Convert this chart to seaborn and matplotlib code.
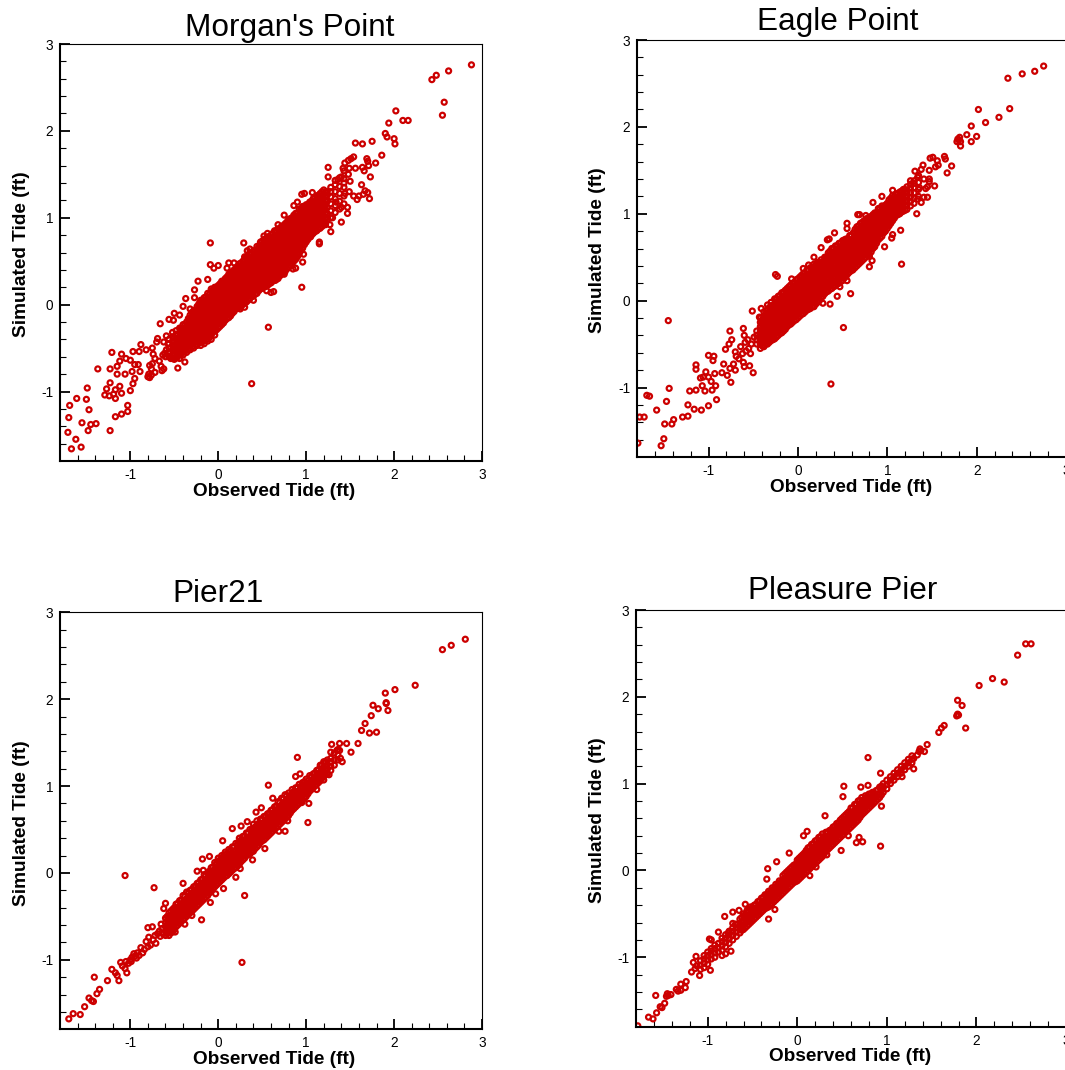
import matplotlib
matplotlib.use("Agg")
import matplotlib.pyplot as plt
import pandas as pd
import seaborn as sns

RED = "#CC0000"
titles = ["Morgan's Point", "Eagle Point", "Pier21", "Pleasure Pier"]
x_label = "Observed Tide (ft)"
y_label = "Simulated Tide (ft)"
major_ticks = [-1, 0, 1, 2, 3]
major_labels = ["-1", "0", "1", "2", "3"]
minor_ticks = [-1.6, -1.4, -1.2, -.8, -.6, -.4, -.2, .2, .4, .6, .8, 1.2, 1.4, 1.6, 1.8, 2.2, 2.4, 2.6, 2.8]

# scattered rings: (observed, simulated)
morgan_rings = [(2.88,2.76),(2.62,2.69),(2.48,2.64),(2.43,2.59),(2.57,2.33),(2.55,2.18),(2.02,2.23),(2.10,2.12),(2.16,2.12),(1.94,2.09),(1.90,1.97),(1.92,1.93),(2.00,1.91),(2.01,1.85),(1.56,1.86),(1.64,1.85),(1.75,1.88),(1.86,1.72),(1.79,1.63),(1.69,1.68),(1.70,1.65),(1.54,1.70),(1.51,1.68),(1.48,1.66),(1.44,1.63),(1.71,1.60),(1.64,1.58),(1.66,1.54),(1.56,1.57),(1.49,1.57),(1.42,1.57),(1.25,1.58),(1.25,1.47),(1.73,1.47),(1.48,1.50),(1.40,1.47),(1.36,1.44),(1.50,1.42),(1.43,1.40),(1.63,1.38),(1.67,1.31),(1.70,1.29),(1.65,1.27),(1.72,1.22),(1.60,1.25),(1.58,1.21),(1.54,1.25),(1.49,1.30),(1.44,1.28),(1.47,1.12),(1.47,1.05),(1.40,.95),(1.30,1.0),(1.27,.92),(1.28,.84),(1.22,.92),(1.34,1.18),(1.40,1.12),(1.15,.70),(1.15,.72),(1.07,.88),(1.05,.78),(1.0,.76),(.97,.58),(.96,.49),(.95,.20),(.88,.42),(.85,.41),(.88,.53),(.57,-.26),(.38,-.91),(.75,.35),(.70,.45),(.63,.15),(.60,.14),(.65,.28),(.55,.16),(.30,-.03),(.40,.05),(.25,-.05),(.13,-.08),
(1.07,1.29),(.98,1.28),(.95,1.27),(.90,1.18),(.86,1.14),(.75,1.03),(.68,.92),(.56,.82),(.52,.79),(.29,.71),(.33,.62),(.36,.64),(.30,.55),(.18,.48),(.12,.48),(.10,.42),(-.09,.71),(-.09,.46),(0,.45),(-.05,.42),(-.23,.27),(-.12,.29),(-.27,.17),(-.37,.07),(-.27,.08),(-.40,-.02),(-.32,-.05),(-.50,-.10),(-.44,-.12),(-.51,-.18),(-.56,-.17),(-.66,-.22),(-.69,-.39),(-.70,-.43),(-.62,-.43),(-.59,-.36),(-.59,-.52),(-.57,-.45),(-.55,-.55),(-.46,-.73),(-.38,-.66),(-.47,-.61),(-.44,-.58),(-.50,-.63),(-.54,-.62),(-.60,-.60),(-.61,-.56),(-.63,-.58),(-.67,-.65),(-.62,-.74),(-.64,-.76),(-.65,-.71),(-.75,-.50),(-.74,-.57),(-.72,-.62),(-.75,-.68),(-.72,-.78),(-.76,-.74),(-.78,-.84),(-.79,-.80),(-.78,-.70),(-.82,-.52),(-.80,-.83),(-.76,-.81),
(-.88,-.46),(-.90,-.54),(-.89,-.77),(-.91,-.69),(-.95,-.69),(-.98,-.77),(-.97,-.54),(-1.0,-.64),(-1.05,-.62),(-1.06,-.80),(-1.10,-.57),(-1.12,-.65),(-1.15,-.71),(-1.15,-.80),(-1.21,-.55),(-1.23,-.74),(-1.37,-.74),(-.95,-.85),(-.97,-.91),(-1.0,-.99),(-1.03,-1.16),(-1.03,-1.23),(-1.10,-1.26),(-1.17,-1.29),(-1.23,-1.45),(-1.23,-.90),(-1.27,-.97),(-1.29,-1.04),(-1.24,-1.05),(-1.19,-1.03),(-1.17,-.98),(-1.17,-1.08),(-1.12,-.94),(-1.10,-1.02),(-1.71,-1.47),(-1.70,-1.30),(-1.69,-1.16),(-1.67,-1.66),(-1.62,-1.55),(-1.56,-1.64),(-1.55,-1.36),(-1.61,-1.08),(-1.50,-1.09),(-1.49,-.96),(-1.47,-1.21),(-1.48,-1.45),(-1.45,-1.38),(-1.39,-1.37)]

# densely overlapping rings: (observed, simulated, simulated, ...)
morgan_core = [
(-.56,-.6,-.55,-.5,-.45,-.4),(-.52,-.62,-.57,-.52,-.47,-.42,-.37,-.32),(-.48,-.6,-.55,-.5,-.45,-.4,-.35,-.3),
(-.44,-.62,-.57,-.52,-.47,-.42,-.37,-.32,-.27),(-.40,-.58,-.53,-.48,-.43,-.38,-.33,-.28,-.23),(-.36,-.55,-.5,-.45,-.4,-.35,-.3,-.25,-.2),
(-.32,-.52,-.47,-.42,-.37,-.32,-.27,-.22,-.17,-.12),(-.28,-.5,-.45,-.4,-.35,-.3,-.25,-.2,-.15,-.1,-.07),(-.24,-.47,-.42,-.37,-.32,-.27,-.22,-.17,-.12,-.07,-.02),
(-.20,-.47,-.42,-.37,-.32,-.27,-.22,-.17,-.12,-.07,-.02,.03,.05),(-.16,-.45,-.4,-.35,-.3,-.25,-.2,-.15,-.1,-.05,0,.05,.08),(-.12,-.42,-.37,-.32,-.27,-.22,-.17,-.12,-.07,-.02,.03,.08,.13),
(-.08,-.4,-.35,-.3,-.25,-.2,-.15,-.1,-.05,0,.05,.1,.15,.18),(-.04,-.35,-.3,-.25,-.2,-.15,-.1,-.05,0,.05,.1,.15,.2),(0,-.27,-.22,-.17,-.12,-.07,-.02,.03,.08,.13,.18,.22),
(.04,-.23,-.18,-.13,-.08,-.03,.02,.07,.12,.17,.22,.27),(.08,-.18,-.13,-.08,-.03,.02,.07,.12,.17,.22,.27,.3),(.12,-.15,-.1,-.05,0,.05,.1,.15,.2,.25,.3,.35),
(.16,-.1,-.05,0,.05,.1,.15,.2,.25,.3,.35,.38),(.20,-.05,0,.05,.1,.15,.2,.25,.3,.35,.4,.42),(.24,-.03,.02,.07,.12,.17,.22,.27,.32,.37,.42,.47),
(.28,0,.05,.1,.15,.2,.25,.3,.35,.4,.45,.5),(.32,.03,.08,.13,.18,.23,.28,.33,.38,.43,.48,.55),(.36,.07,.12,.17,.22,.27,.32,.37,.42,.47,.52,.57,.6),
(.40,.1,.15,.2,.25,.3,.35,.4,.45,.5,.55,.62),(.44,.13,.18,.23,.28,.33,.38,.43,.48,.53,.58,.63,.67),(.48,.18,.23,.28,.33,.38,.43,.48,.53,.58,.63,.68,.72),
(.52,.2,.25,.3,.35,.4,.45,.5,.55,.6,.65,.7,.75),(.56,.22,.27,.32,.37,.42,.47,.52,.57,.62,.67,.72,.78),(.60,.25,.3,.35,.4,.45,.5,.55,.6,.65,.7,.75,.8),
(.64,.28,.33,.38,.43,.48,.53,.58,.63,.68,.73,.78,.85),(.68,.3,.35,.4,.45,.5,.55,.6,.65,.7,.75,.8,.87),(.72,.35,.4,.45,.5,.55,.6,.65,.7,.75,.8,.85,.9),
(.76,.38,.43,.48,.53,.58,.63,.68,.73,.78,.83,.88,.93),(.80,.43,.48,.53,.58,.63,.68,.73,.78,.83,.88,.93,.98),(.84,.47,.52,.57,.62,.67,.72,.77,.82,.87,.92,.97,1.0),
(.88,.52,.57,.62,.67,.72,.77,.82,.87,.92,.97,1.02,1.05),(.92,.58,.63,.68,.73,.78,.83,.88,.93,.98,1.03,1.1),(.96,.65,.7,.75,.8,.85,.9,.95,1.0,1.05,1.1,1.13),
(1.0,.72,.77,.82,.87,.92,.97,1.02,1.07,1.12,1.15),(1.04,.78,.83,.88,.93,.98,1.03,1.08,1.13,1.18),(1.08,.82,.87,.92,.97,1.02,1.07,1.12,1.17,1.22),
(1.12,.85,.9,.95,1.0,1.05,1.1,1.15,1.2,1.25),(1.16,.88,.93,.98,1.03,1.08,1.13,1.18,1.23,1.28),(1.2,.92,.97,1.02,1.07,1.12,1.17,1.22,1.27,1.32),
(1.24,.98,1.05,1.12,1.19,1.26,1.3),(1.28,1.0,1.08,1.16,1.24,1.3,1.35),(1.33,1.06,1.14,1.22,1.3,1.38,1.43),(1.38,1.1,1.19,1.28,1.36,1.46),(1.43,1.16,1.25,1.35,1.45,1.54)]

morgan_fill = [
(-.50,-.58,-.53,-.48,-.43,-.38),(-.46,-.59,-.54,-.49,-.44,-.39,-.34),(-.42,-.57,-.52,-.47,-.42,-.37,-.32,-.27),(-.38,-.54,-.49,-.44,-.39,-.34,-.29,-.24),
(-.34,-.51,-.46,-.41,-.36,-.31,-.26,-.21,-.16),(-.30,-.49,-.44,-.39,-.34,-.29,-.24,-.19,-.14,-.09),(-.26,-.46,-.41,-.36,-.31,-.26,-.21,-.16,-.11,-.06),(-.22,-.44,-.39,-.34,-.29,-.24,-.19,-.14,-.09,-.04,.01),
(-.18,-.43,-.38,-.33,-.28,-.23,-.18,-.13,-.08,-.03,.02,.05),(-.14,-.41,-.36,-.31,-.26,-.21,-.16,-.11,-.06,-.01,.04,.09),(-.10,-.38,-.33,-.28,-.23,-.18,-.13,-.08,-.03,.02,.07,.12),(-.06,-.32,-.27,-.22,-.17,-.12,-.07,-.02,.03,.08,.13,.17),
(-.02,-.29,-.24,-.19,-.14,-.09,-.04,.01,.06,.11,.16,.2),(.02,-.25,-.2,-.15,-.1,-.05,0,.05,.1,.15,.2,.24),(.06,-.21,-.16,-.11,-.06,-.01,.04,.09,.14,.19,.24,.27),(.10,-.16,-.11,-.06,-.01,.04,.09,.14,.19,.24,.29,.32),
(.14,-.13,-.08,-.03,.02,.07,.12,.17,.22,.27,.32,.36),(.18,-.08,-.03,.02,.07,.12,.17,.22,.27,.32,.37,.4),(.22,-.04,.01,.06,.11,.16,.21,.26,.31,.36,.41,.44),(.26,-.01,.04,.09,.14,.19,.24,.29,.34,.39,.44,.48),
(.30,.02,.07,.12,.17,.22,.27,.32,.37,.42,.47,.52),(.34,.05,.1,.15,.2,.25,.3,.35,.4,.45,.5,.55),(.38,.09,.14,.19,.24,.29,.34,.39,.44,.49,.54,.59),(.42,.12,.17,.22,.27,.32,.37,.42,.47,.52,.57,.62),
(.46,.16,.21,.26,.31,.36,.41,.46,.51,.56,.61,.66),(.50,.19,.24,.29,.34,.39,.44,.49,.54,.59,.64,.69,.73),(.54,.21,.26,.31,.36,.41,.46,.51,.56,.61,.66,.71,.76),(.58,.24,.29,.34,.39,.44,.49,.54,.59,.64,.69,.74,.78),
(.62,.27,.32,.37,.42,.47,.52,.57,.62,.67,.72,.77,.82),(.66,.29,.34,.39,.44,.49,.54,.59,.64,.69,.74,.79,.85),(.70,.33,.38,.43,.48,.53,.58,.63,.68,.73,.78,.83,.88),(.74,.37,.42,.47,.52,.57,.62,.67,.72,.77,.82,.87,.91),
(.78,.41,.46,.51,.56,.61,.66,.71,.76,.81,.86,.91,.95),(.82,.45,.5,.55,.6,.65,.7,.75,.8,.85,.9,.95,.99),(.86,.5,.55,.6,.65,.7,.75,.8,.85,.9,.95,1.0,1.03),(.90,.55,.6,.65,.7,.75,.8,.85,.9,.95,1.0,1.05),
(.94,.62,.67,.72,.77,.82,.87,.92,.97,1.02,1.07,1.1),(.98,.69,.74,.79,.84,.89,.94,.99,1.04,1.09,1.13),(1.02,.75,.8,.85,.9,.95,1.0,1.05,1.1,1.15),(1.06,.8,.85,.9,.95,1.0,1.05,1.1,1.15,1.19),
(1.10,.84,.89,.94,.99,1.04,1.09,1.14,1.19,1.23),(1.14,.87,.92,.97,1.02,1.07,1.12,1.17,1.22,1.26),(1.18,.9,.95,1.0,1.05,1.1,1.15,1.2,1.25,1.3),(1.22,.95,1.0,1.05,1.1,1.15,1.2,1.25,1.3)]

eagle_rings = [(2.75,2.70),(2.65,2.64),(2.51,2.61),(2.35,2.56),(2.37,2.21),(2.02,2.20),(2.25,2.11),(2.10,2.05),(1.94,2.01),(1.89,1.91),(2.00,1.89),(1.94,1.83),(1.81,1.88),(1.79,1.86),(1.78,1.83),(1.82,1.83),(1.82,1.78),(1.80,1.85),(1.72,1.55),(1.67,1.47),(1.64,1.66),(1.65,1.63),(1.51,1.65),(1.48,1.64),(1.56,1.61),(1.54,1.54),(1.57,1.56),(1.40,1.56),(1.47,1.50),(1.38,1.51),(1.31,1.49),(1.53,1.32),(1.47,1.40),(1.45,1.19),(1.41,1.19),(1.38,1.13),(1.33,1.0),(1.34,1.17),(1.47,1.37),(1.43,1.29),(1.41,1.40),(1.34,1.42),(1.45,1.31),(1.36,1.30),(1.30,1.35),(1.26,1.38),(1.16,.42),(1.15,.81),(1.05,.72),(1.06,.76),(.97,.62),(.83,.46),(.80,.39),(.80,.51),(.59,.08),(.44,.05),(.36,-.04),(.51,-.31),(.37,-.96),(.28,-.03),(.47,.16),(.61,.35),(.55,.23),(.84,1.13),(.94,1.20),(1.06,1.27),(.67,.99),(.69,.99),(.76,.98),(.55,.89),(.55,.83),(.41,.78),(.33,.70),(.35,.71),(.26,.61),(.18,.50),(.06,.37),(.12,.41),(-.07,.25),(-.25,.30),(-.23,.28),(-.51,-.12),(-.41,-.09),(-.43,-.19),(-1.45,-.23),(-.61,-.32),(-.60,-.40),(-.76,-.35),(-.74,-.45),(-.77,-.50),(-.81,-.56),(-.70,-.59),(-.64,-.53),(-.59,-.48),(-.69,-.64),(-.66,-.67),(-.62,-.61),(-.55,-.55),(-.53,-.61),(-.76,-.78),(-.72,-.73),(-.70,-.80),(-.61,-.71),(-.60,-.76),(-.54,-.75),(-.50,-.83),(-.75,-.94),(-.79,-.86),(-.83,-.73),(-.85,-.83),(-1.0,-.63),(-.94,-.64),(-.95,-.69),(-1.14,-.74),(-1.14,-.79),(-1.03,-.82),(-.93,-.84),(-1.09,-.89),(-1.06,-.88),(-1.0,-.88),(-.97,-.93),(-.92,-.98),(-1.07,-.98),(-1.04,-1.04),(-.96,-1.03),(-1.14,-1.03),(-1.21,-1.04),(-.91,-1.14),(-1.0,-1.21),(-1.08,-1.26),(-1.16,-1.25),(-1.23,-1.20),(-1.44,-1.01),(-1.47,-1.16),(-1.69,-1.09),(-1.66,-1.10),(-1.58,-1.26),(-1.77,-1.34),(-1.72,-1.34),(-1.79,-1.64),(-1.50,-1.59),(-1.53,-1.67),(-1.49,-1.42),(-1.41,-1.42),(-1.39,-1.37),(-1.29,-1.34),(-1.23,-1.33),(-.56,-.45),(-.58,-.58),(-.49,-.42),(-.52,-.5)]

eagle_core = [
(-.46,-.5,-.45,-.4,-.35),(-.42,-.55,-.5,-.45,-.4,-.35,-.3,-.25,-.2),(-.38,-.53,-.48,-.43,-.38,-.33,-.28,-.23,-.18,-.13),(-.34,-.5,-.45,-.4,-.35,-.3,-.25,-.2,-.15,-.1,-.05),
(-.30,-.46,-.41,-.36,-.31,-.26,-.21,-.16,-.11,-.06,-.02),(-.26,-.44,-.39,-.34,-.29,-.24,-.19,-.14,-.09,-.04,.02),(-.22,-.4,-.35,-.3,-.25,-.2,-.15,-.1,-.05,0,.05),
(-.18,-.37,-.32,-.27,-.22,-.17,-.12,-.07,-.02,.03,.09),(-.14,-.33,-.28,-.23,-.18,-.13,-.08,-.03,.02,.07,.12),(-.10,-.28,-.23,-.18,-.13,-.08,-.03,.02,.07,.12,.16),
(-.06,-.25,-.2,-.15,-.1,-.05,0,.05,.1,.15,.2),(-.02,-.22,-.17,-.12,-.07,-.02,.03,.08,.13,.18,.24),(.02,-.18,-.13,-.08,-.03,.02,.07,.12,.17,.22,.27),
(.06,-.15,-.1,-.05,0,.05,.1,.15,.2,.25,.31),(.10,-.11,-.06,-.01,.04,.09,.14,.19,.24,.29,.35),(.14,-.09,-.04,.01,.06,.11,.16,.21,.26,.31,.38),
(.18,-.07,-.02,.03,.08,.13,.18,.23,.28,.33,.38,.42),(.22,-.02,.03,.08,.13,.18,.23,.28,.33,.38,.44),(.26,.03,.08,.13,.18,.23,.28,.33,.38,.43,.47),
(.30,.08,.13,.18,.23,.28,.33,.38,.43,.5),(.34,.11,.16,.21,.26,.31,.36,.41,.46,.51,.55),(.38,.14,.19,.24,.29,.34,.39,.44,.49,.54,.6),
(.42,.17,.22,.27,.32,.37,.42,.47,.52,.57,.63),(.46,.2,.25,.3,.35,.4,.45,.5,.55,.6,.66),(.50,.23,.28,.33,.38,.43,.48,.53,.58,.63,.69),
(.54,.28,.33,.38,.43,.48,.53,.58,.63,.68,.71),(.58,.33,.38,.43,.48,.53,.58,.63,.68,.75),(.62,.36,.41,.46,.51,.56,.61,.66,.71,.78),
(.66,.4,.45,.5,.55,.6,.65,.7,.75,.8,.85),(.70,.44,.49,.54,.59,.64,.69,.74,.79,.84,.89),(.74,.48,.53,.58,.63,.68,.73,.78,.83,.88,.92),
(.78,.52,.57,.62,.67,.72,.77,.82,.87,.92,.95),(.82,.56,.61,.66,.71,.76,.81,.86,.91,.97),(.86,.62,.67,.72,.77,.82,.87,.92,.97,1.01),
(.90,.7,.75,.8,.85,.9,.95,1.0,1.06),(.94,.74,.79,.84,.89,.94,.99,1.04,1.09),(.98,.8,.85,.9,.95,1.0,1.05,1.1),
(1.02,.86,.91,.96,1.01,1.06,1.11,1.16),(1.06,.92,.97,1.02,1.07,1.12,1.17,1.21),(1.10,.98,1.03,1.08,1.13,1.18,1.23),
(1.14,1.0,1.05,1.1,1.15,1.2,1.25),(1.18,1.03,1.08,1.13,1.18,1.23,1.28),(1.22,1.05,1.1,1.15,1.2,1.25,1.31),(1.26,1.09,1.14,1.19,1.24,1.3,1.34),(1.30,1.12,1.18,1.24,1.3,1.38),(1.35,1.2,1.28,1.36,1.44)]

eagle_fill = [
(-.40,-.52,-.47,-.42,-.37,-.32,-.27,-.22),(-.36,-.5,-.45,-.4,-.35,-.3,-.25,-.2,-.15),(-.32,-.48,-.43,-.38,-.33,-.28,-.23,-.18,-.13,-.08),(-.28,-.45,-.4,-.35,-.3,-.25,-.2,-.15,-.1,-.05),
(-.24,-.42,-.37,-.32,-.27,-.22,-.17,-.12,-.07,-.02,.02),(-.20,-.38,-.33,-.28,-.23,-.18,-.13,-.08,-.03,.02,.06),(-.16,-.35,-.3,-.25,-.2,-.15,-.1,-.05,0,.05,.1),(-.12,-.3,-.25,-.2,-.15,-.1,-.05,0,.05,.1,.14),
(-.08,-.27,-.22,-.17,-.12,-.07,-.02,.03,.08,.13,.18),(-.04,-.23,-.18,-.13,-.08,-.03,.02,.07,.12,.17,.21),(0,-.2,-.15,-.1,-.05,0,.05,.1,.15,.2,.25),(.04,-.16,-.11,-.06,-.01,.04,.09,.14,.19,.24,.29),
(.08,-.13,-.08,-.03,.02,.07,.12,.17,.22,.27,.32),(.12,-.1,-.05,0,.05,.1,.15,.2,.25,.3,.35),(.16,-.07,-.02,.03,.08,.13,.18,.23,.28,.33,.38),(.20,-.04,.01,.06,.11,.16,.21,.26,.31,.36,.41),
(.24,0,.05,.1,.15,.2,.25,.3,.35,.4,.44),(.28,.05,.1,.15,.2,.25,.3,.35,.4,.45),(.32,.1,.15,.2,.25,.3,.35,.4,.45,.5),(.36,.13,.18,.23,.28,.33,.38,.43,.48,.53,.57),
(.40,.16,.21,.26,.31,.36,.41,.46,.51,.56,.6),(.44,.19,.24,.29,.34,.39,.44,.49,.54,.59,.63),(.48,.22,.27,.32,.37,.42,.47,.52,.57,.62,.66),(.52,.26,.31,.36,.41,.46,.51,.56,.61,.66,.7),
(.56,.31,.36,.41,.46,.51,.56,.61,.66,.71),(.60,.35,.4,.45,.5,.55,.6,.65,.7,.75),(.64,.38,.43,.48,.53,.58,.63,.68,.73,.78,.82),(.68,.42,.47,.52,.57,.62,.67,.72,.77,.82,.86),
(.72,.46,.51,.56,.61,.66,.71,.76,.81,.86,.9),(.76,.5,.55,.6,.65,.7,.75,.8,.85,.9,.93),(.80,.54,.59,.64,.69,.74,.79,.84,.89,.94),(.84,.6,.65,.7,.75,.8,.85,.9,.95,.99),
(.88,.66,.71,.76,.81,.86,.91,.96,1.01),(.92,.72,.77,.82,.87,.92,.97,1.02,1.06),(.96,.78,.83,.88,.93,.98,1.03,1.08),(1.00,.83,.88,.93,.98,1.03,1.08,1.12),
(1.04,.89,.94,.99,1.04,1.09,1.14,1.18),(1.08,.95,1.0,1.05,1.1,1.15,1.2),(1.12,.99,1.04,1.09,1.14,1.19,1.23),(1.16,1.02,1.07,1.12,1.17,1.22,1.26),(1.20,1.04,1.09,1.14,1.19,1.24,1.28)]

pier_rings = [(2.81,2.69),(2.65,2.62),(2.55,2.57),(2.24,2.16),(2.01,2.11),(1.90,2.07),(1.91,1.95),(1.91,1.96),(1.93,1.87),(1.82,1.89),(1.76,1.93),(1.74,1.81),(1.67,1.72),(1.63,1.64),(1.72,1.61),(1.80,1.62),(1.59,1.49),(1.51,1.39),(1.46,1.49),(1.38,1.49),(1.29,1.48),(1.41,1.28),(1.39,1.32),(1.35,1.41),(1.38,1.41),(1.28,1.39),(.90,1.33),(.88,1.11),(.93,1.14),(.57,1.01),(.62,.86),(1.26,1.13),(1.20,1.07),(1.12,.96),(1.02,.58),(1.03,.80),(.95,.81),(.76,.48),(.79,.60),(.69,.48),(.53,.28),(.39,.15),(.49,.75),(.43,.70),(.33,.59),(.26,.54),(.16,.51),(.05,.37),(.25,.05),(.20,-.05),(.30,-.26),(.27,-1.03),(.06,-.18),(-.03,-.24),(-.09,-.34),(-.10,.19),(-.18,.16),(-.24,.02),(-.17,.03),(-.40,-.12),(-.19,-.54),(-.30,-.49),(-.38,-.59),(-.49,-.68),(-1.06,-.03),(-.73,-.17),(-.60,-.35),(-.62,-.41),(-.65,-.59),(-.80,-.63),(-.75,-.62),(-1.41,-1.20),
(-1.70,-1.68),(-1.65,-1.62),(-1.57,-1.63),(-1.52,-1.54),(-1.47,-1.44),(-1.44,-1.47),(-1.42,-1.48),(-1.38,-1.39),(-1.35,-1.34),(-1.26,-1.24),(-1.21,-1.11),(-1.17,-1.15),(-1.15,-1.18),(-1.13,-1.24),(-1.04,-1.15),(-1.11,-1.03),(-1.06,-1.10),(-1.02,-1.04),(-1.09,-1.07),(-1.05,-1.02),(-1.0,-1.0),(-.98,-.97),(-.99,-1.02),(-.95,-.96),(-.93,-.98),(-.92,-.92),(-.96,-.93),(-.90,-.95),(-.88,-.86),(-.86,-.92),(-.84,-.88),(-.82,-.79),(-.80,-.85),(-.79,-.74),(-.77,-.83),(-.74,-.77),(-.71,-.81),(-.72,-.72),(-.69,-.70),(-.66,-.73),(-.67,-.67),(-.63,-.70),(-.64,-.64)]

pier_core = [
(-.6,-.72,-.67,-.62,-.57,-.52),(-.56,-.72,-.67,-.62,-.57,-.52,-.46),(-.52,-.68,-.63,-.58,-.53,-.48,-.42),(-.48,-.62,-.57,-.52,-.47,-.42,-.36),(-.44,-.58,-.53,-.48,-.43,-.38,-.32),
(-.40,-.54,-.49,-.44,-.39,-.34,-.26),(-.36,-.5,-.45,-.4,-.35,-.3,-.22),(-.32,-.46,-.41,-.36,-.31,-.26,-.2),(-.28,-.42,-.37,-.32,-.27,-.22,-.16),(-.24,-.38,-.33,-.28,-.23,-.18,-.12),
(-.2,-.34,-.29,-.24,-.19,-.14,-.08),(-.16,-.3,-.25,-.2,-.15,-.1,-.02),(-.12,-.26,-.21,-.16,-.11,-.06,0),(-.08,-.2,-.15,-.1,-.05,0,.06),(-.04,-.16,-.11,-.06,-.01,.04,.12),
(0,-.12,-.07,-.02,.03,.08,.13,.17),(.04,-.08,-.03,.02,.07,.12,.17,.2),(.08,-.04,.01,.06,.11,.16,.21,.24),(.12,-.01,.04,.09,.14,.19,.24,.27),(.16,.03,.08,.13,.18,.23,.3),
(.2,.06,.11,.16,.21,.26,.34),(.24,.1,.15,.2,.25,.3,.35,.4),(.28,.15,.2,.25,.3,.35,.42),(.32,.2,.25,.3,.35,.4,.46),(.36,.22,.27,.32,.37,.42,.5),
(.4,.25,.3,.35,.4,.45,.5,.56),(.44,.3,.35,.4,.45,.5,.55,.6),(.48,.35,.4,.45,.5,.55,.62),(.52,.38,.43,.48,.53,.58,.65),(.56,.42,.47,.52,.57,.62,.68),
(.6,.46,.51,.56,.61,.66,.72),(.64,.5,.55,.6,.65,.7,.76),(.68,.54,.59,.64,.69,.74,.82),(.72,.58,.63,.68,.73,.78,.86),(.76,.62,.67,.72,.77,.82,.9),
(.8,.66,.71,.76,.81,.86,.92),(.84,.72,.77,.82,.87,.92,.96),(.88,.76,.81,.86,.91,.98),(.92,.8,.85,.9,.95,1.02),(.96,.84,.89,.94,.99,1.04),
(1.0,.88,.93,.98,1.03,1.08),(1.04,.94,.99,1.04,1.12),(1.08,.98,1.03,1.08,1.14),(1.12,1.02,1.07,1.12,1.18),(1.16,1.06,1.11,1.16,1.24),
(1.2,1.12,1.17,1.22,1.28),(1.24,1.14,1.19,1.24,1.3),(1.28,1.18,1.23,1.28,1.32),(1.32,1.24,1.3,1.38),(1.36,1.3,1.36,1.42)]

pier_fill = [
(-.58,-.7,-.65,-.6,-.55,-.5),(-.54,-.69,-.64,-.59,-.54,-.49,-.44),(-.5,-.65,-.6,-.55,-.5,-.45,-.4),(-.46,-.6,-.55,-.5,-.45,-.4,-.35),(-.42,-.56,-.51,-.46,-.41,-.36,-.31),(-.38,-.52,-.47,-.42,-.37,-.32,-.27),
(-.34,-.48,-.43,-.38,-.33,-.28,-.23),(-.3,-.44,-.39,-.34,-.29,-.24,-.19),(-.26,-.4,-.35,-.3,-.25,-.2,-.15),(-.22,-.36,-.31,-.26,-.21,-.16,-.11),(-.18,-.32,-.27,-.22,-.17,-.12,-.07),(-.14,-.28,-.23,-.18,-.13,-.08,-.03),
(-.1,-.23,-.18,-.13,-.08,-.03,.02),(-.06,-.18,-.13,-.08,-.03,.02,.07),(-.02,-.14,-.09,-.04,.01,.06,.11),(.02,-.1,-.05,0,.05,.1,.15),(.06,-.06,-.01,.04,.09,.14,.19),(.1,-.03,.02,.07,.12,.17,.22),
(.14,.01,.06,.11,.16,.21,.26),(.18,.05,.1,.15,.2,.25,.3),(.22,.08,.13,.18,.23,.28,.33),(.26,.13,.18,.23,.28,.33,.38),(.3,.17,.22,.27,.32,.37,.42),(.34,.21,.26,.31,.36,.41,.46),
(.38,.24,.29,.34,.39,.44,.49),(.42,.28,.33,.38,.43,.48,.53),(.46,.32,.37,.42,.47,.52,.57),(.5,.37,.42,.47,.52,.57,.62),(.54,.4,.45,.5,.55,.6,.65),(.58,.44,.49,.54,.59,.64,.69),
(.62,.48,.53,.58,.63,.68,.73),(.66,.52,.57,.62,.67,.72,.77),(.7,.56,.61,.66,.71,.76,.81),(.74,.6,.65,.7,.75,.8,.85),(.78,.64,.69,.74,.79,.84,.89),(.82,.69,.74,.79,.84,.89),
(.86,.74,.79,.84,.89,.94),(.9,.78,.83,.88,.93,.98),(.94,.82,.87,.92,.97,1.0),(.98,.86,.91,.96,1.01,1.05),(1.02,.91,.96,1.01,1.06),(1.06,.96,1.01,1.06,1.11),
(1.1,1.0,1.05,1.1,1.15),(1.14,1.04,1.09,1.14,1.19),(1.18,1.09,1.14,1.19,1.24),(1.22,1.13,1.18,1.23,1.28)]

pleasure_rings = [(2.61,2.61),(2.55,2.61),(2.46,2.48),(2.31,2.17),(2.18,2.21),(2.03,2.13),(1.79,1.96),(1.84,1.90),(1.79,1.80),(1.78,1.78),(1.80,1.79),(1.88,1.64),(1.64,1.67),(1.61,1.64),(1.58,1.59),(1.45,1.45),(1.42,1.37),(1.37,1.40),(1.36,1.37),(1.30,1.17),(.79,1.30),(.93,1.12),(1.17,1.08),(.52,.97),(.51,.85),(.79,.98),(.71,.96),(.94,.74),(.93,.28),(.69,.38),(.73,.33),(.66,.32),(.57,.40),(.49,.23),(.31,.63),(.33,.18),(.11,.45),(.07,.40),(.21,.04),(.14,-.06),(-.09,.20),(-.23,.10),(-.33,.02),(-.34,-.10),(-.25,-.45),(-.32,-.56),(-.81,-.53),(-.72,-.48),(-.65,-.46),(-.58,-.39),(-.88,-.71),(-.72,-.61),(-.74,-.93),(-.98,-.79),(-.97,-1.15),(-1.13,-.99),(-1.16,-1.06),(-1.18,-1.17),(-1.09,-1.21),(-1.24,-1.28),(-1.30,-1.31),(-1.25,-1.35),(-1.30,-1.38),(-1.35,-1.37),(-1.41,-1.43),(-1.45,-1.42),(-1.46,-1.45),(-1.58,-1.44),(-1.48,-1.53),(-1.53,-1.57),(-1.57,-1.64),(-1.66,-1.69),(-1.61,-1.71),(-1.78,-1.79),(-1.33,-1.39),(-1.44,-1.44),(-1.51,-1.58),(-.96,-.8),(-1.12,-1.1),(-1.14,-1.13),(-.84,-.98),(-.8,-.96),(-.77,-.72),(-.69,-.62),(1.38,1.38),(1.34,1.33),(1.3,1.29)]

pleasure_core = [
(-1.08,-1.14,-1.09,-1.04),(-1.04,-1.12,-1.07,-1.02,-.98),(-1.0,-1.08,-1.03,-.98,-.94),(-.96,-1.02,-.97,-.93,-.9),(-.92,-1.0,-.95,-.9,-.86),(-.88,-.94,-.89,-.84),(-.84,-.92,-.87,-.82,-.78),(-.8,-.88,-.83,-.78,-.74),
(-.76,-.84,-.79,-.74,-.7),(-.72,-.8,-.75,-.7,-.66),(-.68,-.76,-.71,-.66,-.62),(-.64,-.72,-.67,-.62,-.56),(-.6,-.68,-.63,-.58,-.5),(-.56,-.64,-.59,-.54,-.49,-.46),(-.52,-.6,-.55,-.5,-.45,-.42),(-.48,-.56,-.51,-.46,-.4),
(-.44,-.52,-.47,-.42,-.36),(-.4,-.48,-.43,-.38,-.32),(-.36,-.44,-.39,-.34,-.28),(-.32,-.42,-.37,-.32,-.27,-.24),(-.28,-.38,-.33,-.28,-.23,-.2),(-.24,-.34,-.29,-.24,-.19,-.16),(-.2,-.3,-.25,-.2,-.15,-.12),(-.16,-.26,-.21,-.16,-.11,-.06),
(-.12,-.22,-.17,-.12,-.07,-.02),(-.08,-.18,-.13,-.08,-.03,.02),(-.04,-.14,-.09,-.04,.01,.06),(0,-.12,-.07,-.02,.03,.08,.12),(.04,-.08,-.03,.02,.07,.12,.16),(.08,-.04,.01,.06,.11,.16,.2),(.12,0,.05,.1,.15,.2,.26),(.16,.04,.09,.14,.19,.24,.3),
(.2,.08,.13,.18,.23,.28,.34),(.24,.12,.17,.22,.27,.32,.38),(.28,.16,.21,.26,.31,.36,.42),(.32,.22,.27,.32,.37,.44),(.36,.26,.31,.36,.41,.46),(.4,.3,.35,.4,.45,.5),(.44,.34,.39,.44,.49,.54),(.48,.38,.43,.48,.53,.58),
(.52,.42,.47,.52,.57,.62),(.56,.46,.51,.56,.61,.66),(.6,.5,.55,.6,.65,.72),(.64,.54,.59,.64,.69,.76),(.68,.58,.63,.68,.73,.8),(.72,.64,.69,.74,.79,.84),(.76,.68,.73,.78,.83,.86),(.8,.72,.77,.82,.88),
(.84,.76,.81,.86,.9),(.88,.8,.85,.92),(.92,.84,.89,.96),(.96,.9,.95,1.0),(1.0,.94,.99,1.04),(1.04,1.0,1.04,1.08),(1.08,1.04,1.08,1.12),(1.12,1.08,1.12,1.16),(1.16,1.12,1.16,1.2),(1.2,1.16,1.2,1.24),(1.24,1.2,1.24,1.28),(1.28,1.24,1.28,1.32)]

pleasure_fill = [
(-.62,-.69,-.64,-.59,-.54),(-.58,-.66,-.61,-.56,-.51),(-.54,-.62,-.57,-.52,-.47),(-.5,-.58,-.53,-.48,-.43),(-.46,-.54,-.49,-.44,-.39),(-.42,-.5,-.45,-.4,-.35),(-.38,-.46,-.41,-.36,-.31),(-.34,-.43,-.38,-.33,-.28),
(-.3,-.4,-.35,-.3,-.25),(-.26,-.36,-.31,-.26,-.21),(-.22,-.32,-.27,-.22,-.17),(-.18,-.28,-.23,-.18,-.13),(-.14,-.24,-.19,-.14,-.09,-.04),(-.1,-.2,-.15,-.1,-.05,0),(-.06,-.16,-.11,-.06,-.01,.04),(-.02,-.13,-.08,-.03,.02,.07),
(.02,-.1,-.05,0,.05,.1,.14),(.06,-.06,-.01,.04,.09,.14,.18),(.1,-.02,.03,.08,.13,.18,.23),(.14,.02,.07,.12,.17,.22,.27),(.18,.06,.11,.16,.21,.26,.31),(.22,.1,.15,.2,.25,.3,.35),(.26,.14,.19,.24,.29,.34,.39),(.3,.19,.24,.29,.34,.39),
(.34,.24,.29,.34,.39,.44),(.38,.28,.33,.38,.43,.47),(.42,.32,.37,.42,.47,.51),(.46,.36,.41,.46,.51,.55),(.5,.4,.45,.5,.55,.6),(.54,.44,.49,.54,.59,.64),(.58,.48,.53,.58,.63,.68),(.62,.52,.57,.62,.67,.72),
(.66,.56,.61,.66,.71,.76),(.7,.61,.66,.71,.76,.81),(.74,.66,.71,.76,.81),(.78,.7,.75,.8,.85),(.82,.74,.79,.84,.88),(.86,.78,.83,.88),(.9,.82,.87,.93),(.94,.87,.92,.97)]

panel_data = [(morgan_rings, morgan_core + morgan_fill), (eagle_rings, eagle_core + eagle_fill),
              (pier_rings, pier_core + pier_fill), (pleasure_rings, pleasure_core + pleasure_fill)]

# panel geometry in pixels: left, top, right, bottom, title centre, baseline above top, x-label centre
W, H = 1065, 1070
boxes = [(60, 44, 482, 461, 290, 8, 274), (637, 40, 1066, 457, 838, 10, 851),
         (60, 612.3, 482, 1029.3, 218, 10, 274), (636, 610, 1066, 1026.7, 843, 10.7, 850)]

sns.set_theme(style="white")
plt.rcParams["font.family"] = ["Liberation Sans", "DejaVu Sans"]
plt.rcParams["text.color"] = "black"
plt.rcParams["axes.labelcolor"] = "black"
fig = plt.figure(figsize=(W / 100, H / 100), dpi=100, facecolor="white")

for title, (rings, core), (l, t, r, b, tc, ba, xc) in zip(titles, panel_data, boxes):
    ax = fig.add_axes([l / W, 1 - b / H, (r - l) / W, (b - t) / H])
    obs = [p[0] for p in rings] + [row[0] for row in core for _ in row[1:]]
    sim = [p[1] for p in rings] + [v for row in core for v in row[1:]]
    df = pd.DataFrame({"obs": obs, "sim": sim})
    sns.scatterplot(data=df, x="obs", y="sim", ax=ax, color=RED, edgecolor=RED,
                    s=13, linewidth=1.6, marker="o", legend=False)
    ax.collections[0].set_facecolor("none")
    ax.set_xlim(-1.8, 3)
    ax.set_ylim(-1.8, 3)
    ax.set_xticks(major_ticks, major_labels)
    ax.set_yticks(major_ticks, major_labels)
    ax.set_xticks(minor_ticks, minor=True)
    ax.set_yticks(minor_ticks, minor=True)
    ax.tick_params(which="major", direction="in", length=7.2, width=1.3, labelsize=9.8,
                   colors="black", pad=5, bottom=True, left=True, top=False, right=False)
    ax.tick_params(which="minor", direction="in", length=4.6, width=.8, colors="black",
                   bottom=True, left=True, top=False, right=False)
    for side, w in (("left", 1.5), ("bottom", 1.5), ("top", .8), ("right", .8)):
        ax.spines[side].set_visible(True)
        ax.spines[side].set_linewidth(w)
        ax.spines[side].set_color("black")
    ax.set_xlabel(x_label, fontsize=13.7, fontweight="bold", va="center")
    ax.set_ylabel(y_label, fontsize=13.7, fontweight="bold", va="center")
    ax.xaxis.set_label_coords((xc - l) / (r - l), -30 / (b - t))
    ax.yaxis.set_label_coords(-39 / (r - l), .495)
    ax.set_title(title, fontsize=22.7, color="black", x=(tc - l) / (r - l), y=1 + ba / (b - t),
                 va="baseline", ha="center", pad=0)

fig.savefig("out.png", dpi=100)
